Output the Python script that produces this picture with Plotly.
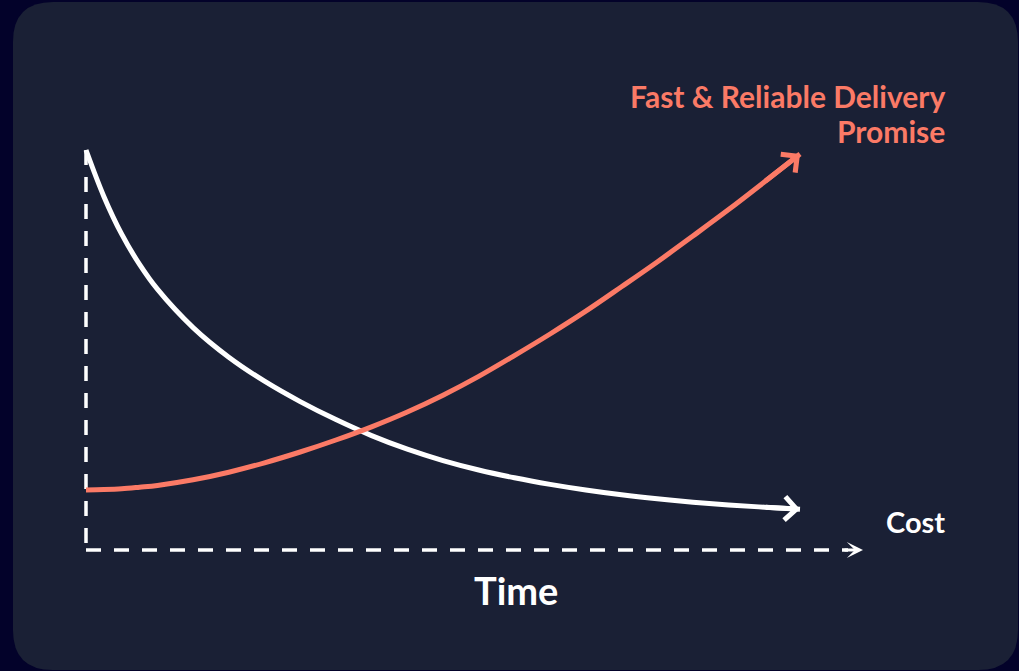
import plotly.graph_objects as go

# ---- data ----
time = [0, 0.25, 0.5, 0.75, 1, 1.5, 2, 2.5, 3, 3.5, 4, 4.5, 5, 5.5, 6, 6.5, 7, 7.5, 8, 8.5, 9, 9.5, 10]
cost = [10.0, 8.84, 7.895, 7.14, 6.52, 5.56, 4.82, 4.22, 3.71, 3.26, 2.86, 2.52, 2.235, 2.00,
        1.805, 1.64, 1.50, 1.38, 1.28, 1.195, 1.125, 1.07, 1.02]
delivery = [1.50, 1.51, 1.53, 1.57, 1.615, 1.755, 1.945, 2.18, 2.45, 2.75, 3.08, 3.45, 3.87,
            4.34, 4.86, 5.40, 5.97, 6.58, 7.20, 7.85, 8.51, 9.20, 9.90]

cost_label = "Cost"
delivery_label_lines = ["Fast & Reliable Delivery", "Promise"]
x_label = "Time"

# ---- styling ----
W, H = 1019, 671
OUTER_BG = "#03022a"
CARD_BG = "#1a2035"
SALMON = "#fb7a66"
WHITE = "#ffffff"
FONT = "Lato"

# axis scale: time 0 at px 86, time 10 at px 800; value 0 at py 550, value 10 at py 150
PX_PER_T = (800 - 86) / 10
PX_PER_V = (550 - 150) / 10
x_range = [-86 / PX_PER_T, (W - 86) / PX_PER_T]
y_range = [-(H - 550) / PX_PER_V, 550 / PX_PER_V]

def px(v):
    return v / W

def py(v):
    return 1 - v / H

fig = go.Figure()

fig.add_trace(go.Scatter(x=time, y=cost, mode="lines", name=cost_label,
                         line=dict(color=WHITE, width=5, shape="spline", smoothing=1.0),
                         hoverinfo="skip"))
fig.add_trace(go.Scatter(x=time, y=delivery, mode="lines", name=" ".join(delivery_label_lines),
                         line=dict(color=SALMON, width=5, shape="spline", smoothing=1.0),
                         hoverinfo="skip"))

# card background
x0, x1 = px(13), px(1018)
y0, y1 = py(670), py(2)
rx, ry = 40 / W, 40 / H
card_path = (f"M {x0+rx},{y1} L {x1-rx},{y1} Q {x1},{y1} {x1},{y1-ry} "
             f"L {x1},{y0+ry} Q {x1},{y0} {x1-rx},{y0} L {x0+rx},{y0} "
             f"Q {x0},{y0} {x0},{y0+ry} L {x0},{y1-ry} Q {x0},{y1} {x0+rx},{y1} Z")
shapes = [dict(type="path", xref="paper", yref="paper", path=card_path,
               fillcolor=CARD_BG, line=dict(width=0), layer="below")]

# dashed axes
t0, v0 = time[0], 0
v_top = max(cost)
t_axis_end = (848 - 86) / PX_PER_T
shapes.append(dict(type="line", xref="x", yref="y", x0=t0, y0=v_top, x1=t0, y1=v0,
                   line=dict(color=WHITE, width=3.5, dash="15px,12px"), layer="below"))
shapes.append(dict(type="line", xref="x", yref="y", x0=t0, y0=v0, x1=t_axis_end, y1=v0,
                   line=dict(color=WHITE, width=3.5, dash="15px,13px"), layer="below"))

annotations = []
# arrowheads on curves
for ys, col in [(cost, WHITE), (delivery, SALMON)]:
    annotations.append(dict(x=time[-1], y=ys[-1], ax=time[-2], ay=ys[-2],
                            xref="x", yref="y", axref="x", ayref="y", text="",
                            showarrow=True, arrowhead=4, arrowsize=0.9, arrowwidth=5,
                            arrowcolor=col, standoff=0, startstandoff=0))
# x-axis arrowhead
annotations.append(dict(x=(863 - 86) / PX_PER_T, y=0, ax=-20, ay=0, xref="x", yref="y",
                        text="", showarrow=True, arrowhead=3, arrowsize=0.9, arrowwidth=3,
                        arrowcolor=WHITE, standoff=0))

# labels
for line_text, cy in zip(delivery_label_lines, [96, 131]):
    annotations.append(dict(x=px(947), y=py(cy), xref="paper", yref="paper",
                            text=f"<b>{line_text}</b>", showarrow=False,
                            xanchor="right", yanchor="middle", align="right",
                            font=dict(family=FONT, size=30, color=SALMON)))
annotations.append(dict(x=px(947), y=py(521), xref="paper", yref="paper",
                        text=f"<b>{cost_label}</b>", showarrow=False,
                        xanchor="right", yanchor="middle",
                        font=dict(family=FONT, size=29, color=WHITE)))
annotations.append(dict(x=px(516), y=py(590), xref="paper", yref="paper",
                        text=f"<b>{x_label}</b>", showarrow=False,
                        xanchor="center", yanchor="middle",
                        font=dict(family=FONT, size=38, color=WHITE)))

fig.update_layout(
    width=W, height=H,
    margin=dict(l=0, r=0, t=0, b=0),
    paper_bgcolor=OUTER_BG, plot_bgcolor="rgba(0,0,0,0)",
    showlegend=False,
    xaxis=dict(range=x_range, visible=False, fixedrange=True),
    yaxis=dict(range=y_range, visible=False, fixedrange=True),
    shapes=shapes, annotations=annotations,
)

fig.write_html("out.html", config={"displayModeBar": False})
